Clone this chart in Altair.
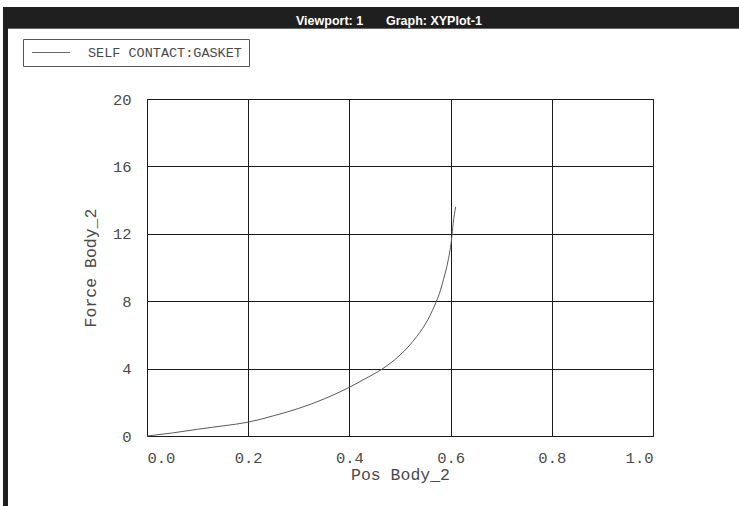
import altair as alt
import pandas as pd

# ---- data ----
pos = [0.0, 0.05, 0.1, 0.15, 0.2, 0.25, 0.3, 0.35, 0.4, 0.43, 0.464, 0.5,
       0.518, 0.533, 0.545, 0.555, 0.564, 0.572, 0.58, 0.586, 0.591,
       0.595, 0.599, 0.602, 0.605, 0.61]
force = [0.0, 0.18, 0.4, 0.6, 0.82, 1.2, 1.64, 2.2, 2.89, 3.38, 3.96, 4.8,
         5.35, 5.9, 6.4, 6.9, 7.45, 8.0, 8.65, 9.3, 9.85,
         10.4, 11.05, 11.7, 12.6, 13.6]
legend_label = ["SELF CONTACT:GASKET"]
header_parts = ["Viewport: 1", "Graph: XYPlot-1"]
x_ticks = [0.0, 0.2, 0.4, 0.6, 0.8, 1.0]
y_ticks = [0, 4, 8, 12, 16, 20]

df = pd.DataFrame({"pos": pos, "force": force})
one = pd.DataFrame({"k": [0]})
leg_df = pd.DataFrame({"label": legend_label})

W, H = 506, 337
MONO = "Liberation Mono"
TXT = "#4a4a4a"

curve = alt.Chart(df).mark_line(color="#5a5a5a", strokeWidth=1, interpolate="monotone").encode(
    x=alt.X("pos:Q", scale=alt.Scale(domain=[0, 1], nice=False),
            axis=alt.Axis(values=x_ticks, format=".1f", title="Pos Body_2",
                          labelPadding=14, titleY=38, titleBaseline="middle")),
    y=alt.Y("force:Q", scale=alt.Scale(domain=[0, 20], nice=False),
            axis=alt.Axis(values=y_ticks, format="d", title="Force Body_2",
                          labelPadding=16, titleX=-57, titleY=H / 2,
                          titleAngle=-90, titleBaseline="middle", titleAlign="center")),
)

header = alt.Chart(one).mark_rect(color="#1f1f1f").encode(
    x=alt.value(-144), x2=alt.value(592), y=alt.value(-92), y2=alt.value(-71))
header_line = alt.Chart(one).mark_rule(color="#666", strokeWidth=1).encode(
    x=alt.value(-139), x2=alt.value(592), y=alt.value(-70.5))
left_bar = alt.Chart(one).mark_rect(color="#1f1f1f").encode(
    x=alt.value(-144), x2=alt.value(-139), y=alt.value(-92), y2=alt.value(407))

hdr_style = dict(color="white", font="Liberation Sans", fontWeight="bold", fontSize=12.5,
                 align="left", baseline="alphabetic")
header_label1 = alt.Chart(pd.DataFrame({"label": [header_parts[0]]})).mark_text(**hdr_style).encode(
    x=alt.value(149), y=alt.value(-74), text="label:N")
header_label2 = alt.Chart(pd.DataFrame({"label": [header_parts[1]]})).mark_text(**hdr_style).encode(
    x=alt.value(239), y=alt.value(-74), text="label:N")

legend_box = alt.Chart(one).mark_rect(fill="white", stroke="#555", strokeWidth=1).encode(
    x=alt.value(-123.5), x2=alt.value(102.5), y=alt.value(-59.5), y2=alt.value(-32.5))
legend_line = alt.Chart(one).mark_rule(color="#666", strokeWidth=1).encode(
    x=alt.value(-115), x2=alt.value(-77), y=alt.value(-46.5))
legend_text = alt.Chart(leg_df).mark_text(
    color=TXT, font=MONO, fontSize=13.5, align="left", baseline="alphabetic").encode(
    x=alt.value(-59), y=alt.value(-42), text="label:N")

chart = alt.layer(
    curve, header, header_line, left_bar, header_label1, header_label2,
    legend_box, legend_line, legend_text
).properties(
    width=W, height=H,
    padding={"left": 147, "top": 99, "right": 86, "bottom": 70},
    autosize=alt.AutoSizeParams(type="none"),
    background="white",
).configure_view(
    stroke="#111", strokeWidth=1
).configure_axis(
    grid=True, gridColor="#1a1a1a", gridWidth=1, gridOpacity=1,
    domain=False, ticks=False,
    labelFont=MONO, labelFontSize=15.5, labelColor=TXT, labelFontWeight="normal",
    titleFont=MONO, titleFontSize=16.5, titleColor=TXT, titleFontWeight="normal",
)

chart.save("out.html", embed_options={"renderer": "svg", "actions": False})
